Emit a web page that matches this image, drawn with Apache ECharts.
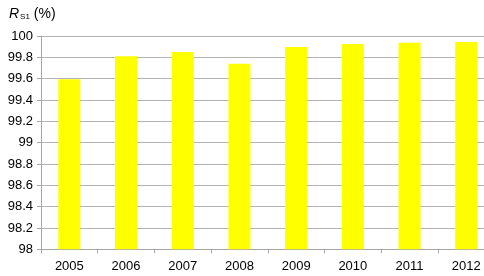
<!DOCTYPE html>
<html>
<head>
<meta charset="utf-8">
<script src="https://cdn.jsdelivr.net/npm/echarts@6/dist/echarts.min.js"></script>
<style>html,body{margin:0;padding:0;background:#fff}#c{width:484px;height:276px}</style>
</head>
<body>
<div id="c"></div>
<script>
const categories = ['2005','2006','2007','2008','2009','2010','2011','2012'];
const values = [99.594, 99.81, 99.85, 99.74, 99.897, 99.925, 99.937, 99.944];
const yMin = 98, yMax = 100, yStep = 0.2;

const chart = echarts.init(document.getElementById('c'), null, {renderer:'canvas'});
chart.setOption({
  animation: false,
  backgroundColor: '#ffffff',
  title: {
    text: '{i|R}{sub|S1}{n| (%)}',
    left: 4, top: 2,
    textStyle: {
      fontWeight: 'normal',
      rich: {
        i: {fontFamily:'Liberation Sans', fontStyle:'italic', fontWeight:'normal', fontSize:14, color:'#000'},
        sub: {fontFamily:'Liberation Sans', fontWeight:'normal', fontSize:8, color:'#000', padding:[6,0,0,1]},
        n: {fontFamily:'Liberation Sans', fontWeight:'normal', fontSize:14, color:'#000'}
      }
    }
  },
  grid: {left: 41, top: 36, width: 453.6, height: 213.3, outerBoundsMode: 'none', containLabel: false},
  xAxis: {
    type: 'category',
    data: categories,
    axisLine: {lineStyle: {color:'#a6a6a6', width:1}},
    axisTick: {show:true, length:4, lineStyle:{color:'#a6a6a6'}},
    axisLabel: {fontFamily:'Liberation Sans', fontSize:13, color:'#000', margin:11}
  },
  yAxis: {
    type: 'value',
    min: yMin, max: yMax, interval: yStep,
    axisLine: {show:true, lineStyle: {color:'#a6a6a6', width:1}},
    axisTick: {show:true, length:4, lineStyle:{color:'#a6a6a6'}},
    splitLine: {lineStyle: {color:'#b3b3b3', width:1.2}},
    axisLabel: {fontFamily:'Liberation Sans', fontSize:13, color:'#000', margin:8,
      formatter: v => String(Math.round(v*10)/10)}
  },
  series: [{
    type: 'bar',
    data: values,
    barWidth: 22,
    itemStyle: {color:'#ffff00'}
  }]
});
</script>
</body>
</html>
